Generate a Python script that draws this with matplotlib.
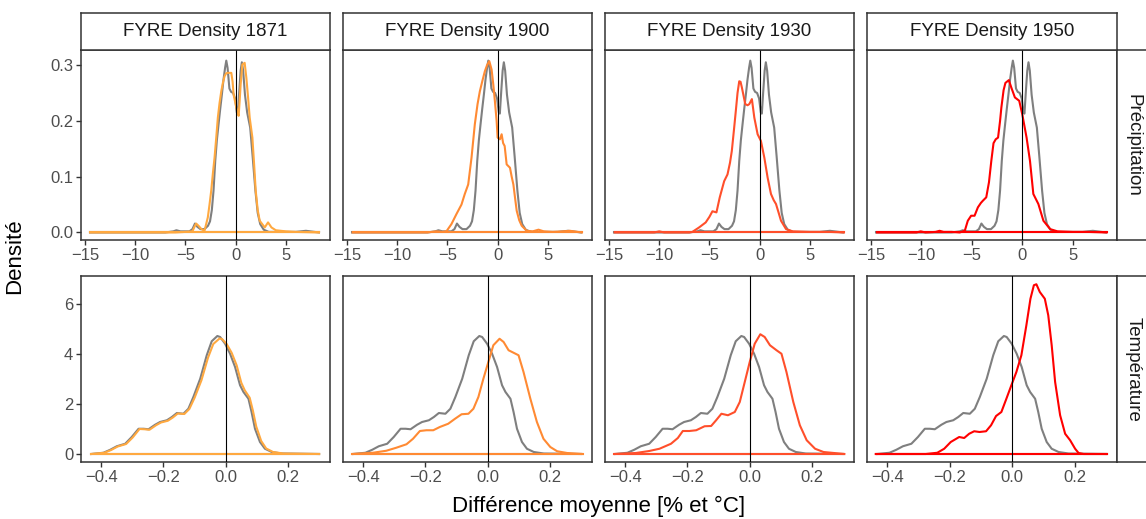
import matplotlib
matplotlib.use("Agg")
import matplotlib.pyplot as plt

plt.rcParams['font.family'] = ['Liberation Sans', 'DejaVu Sans']

# ---------------- data ----------------
column_titles = ["FYRE Density 1871", "FYRE Density 1900", "FYRE Density 1930", "FYRE Density 1950"]
row_titles = ["Précipitation", "Température"]
series_colors = ["#FFA940", "#FF8A33", "#FF4F2B", "#FF0000"]
ref_color = "#7F7F7F"

precip_ticks = [-15, -10, -5, 0, 5]
temp_ticks = [-0.4, -0.2, 0.0, 0.2]
precip_yticks = [0.0, 0.1, 0.2, 0.3]
temp_yticks = [0, 2, 4, 6]

# reference (grey) precipitation density
precip_ref_x = [-14.5, -7.0, -6.2, -5.9, -5.5, -4.6, -4.3, -4.05, -3.8, -3.5, -3.1, -2.75, -2.55, -2.37, -2.2,
                -2.03, -1.87, -1.7, -1.53, -1.37, -1.2, -1.05, -0.93, -0.8, -0.62, -0.45, -0.25, -0.05, 0.12,
                0.22, 0.35, 0.5, 0.62, 0.75, 0.93, 1.15, 1.45, 1.7, 1.97, 2.2, 2.45, 2.8, 3.3, 4.5, 6.0, 7.0, 8.3]
precip_ref_y = [0, 0, 0.002, 0.004, 0.002, 0.002, 0.006, 0.016, 0.01, 0.006, 0.006, 0.012, 0.02, 0.04, 0.075,
                0.128, 0.165, 0.194, 0.222, 0.247, 0.275, 0.295, 0.308, 0.295, 0.258, 0.252, 0.25, 0.24, 0.215,
                0.213, 0.25, 0.29, 0.305, 0.29, 0.247, 0.215, 0.188, 0.135, 0.075, 0.035, 0.015, 0.005, 0.001,
                0.001, 0.001, 0.003, 0]

precip_1871_x = [-14.5, -6.0, -5.0, -4.3, -4.1, -3.93, -3.7, -3.4, -3.1, -2.77, -2.6, -2.43, -2.27, -2.1, -1.93,
                 -1.77, -1.6, -1.43, -1.27, -1.1, -0.95, -0.83, -0.6, -0.43, -0.3, -0.2, 0.07, 0.2, 0.3, 0.4,
                 0.5, 0.67, 0.9, 1.07, 1.25, 1.4, 1.67, 1.85, 2.0, 2.2, 2.4, 2.9, 3.23, 3.57, 4.0, 5.0, 6.0, 8.3]
precip_1871_y = [0, 0, 0.001, 0.002, 0.01, 0.016, 0.012, 0.006, 0.003, 0.027, 0.05, 0.075, 0.105, 0.134, 0.17,
                 0.206, 0.232, 0.253, 0.268, 0.28, 0.285, 0.286, 0.286, 0.286, 0.27, 0.247, 0.224, 0.215, 0.209,
                 0.235, 0.265, 0.301, 0.304, 0.277, 0.24, 0.206, 0.17, 0.12, 0.075, 0.04, 0.021, 0.009, 0.018,
                 0.009, 0.004, 0.002, 0.001, 0]

precip_1900_x = [-14.43, -7.0, -6.1, -5.5, -5.1, -4.6, -4.1, -3.6, -3.27, -2.93, -2.6, -2.27, -2.0, -1.77, -1.5,
                 -1.27, -1.05, -0.83, -0.6, -0.43, -0.27, -0.1, 0.0, 0.23, 0.4, 0.55, 0.7, 0.9, 1.23, 1.4, 1.57,
                 1.75, 1.9, 2.15, 2.4, 2.9, 3.5, 4.07, 4.6, 5.5, 6.5, 7.2, 8.4]
precip_1900_y = [0, 0, 0.002, 0.001, 0.002, 0.015, 0.033, 0.05, 0.069, 0.086, 0.134, 0.194, 0.23, 0.253, 0.273,
                 0.289, 0.3, 0.307, 0.292, 0.265, 0.235, 0.2, 0.17, 0.167, 0.176, 0.16, 0.155, 0.122, 0.116, 0.1,
                 0.086, 0.06, 0.039, 0.022, 0.012, 0.003, 0.002, 0.005, 0.002, 0.001, 0.002, 0.003, 0]

precip_1930_x = [-14.43, -10.5, -10.0, -9.5, -7.0, -6.7, -6.03, -5.37, -5.0, -4.7, -4.3, -3.97, -3.53, -3.2,
                 -2.95, -2.77, -2.55, -2.37, -2.2, -2.03, -1.9, -1.77, -1.6, -1.43, -1.2, -1.03, -0.77, -0.53,
                 -0.2, 0.13, 0.47, 0.8, 1.13, 1.4, 1.63, 1.9, 2.13, 2.63, 3.3, 5.0, 7.0, 8.4]
precip_1930_y = [0, 0, 0.002, 0, 0, 0.001, 0.009, 0.018, 0.028, 0.038, 0.036, 0.063, 0.092, 0.104, 0.125, 0.146,
                 0.185, 0.218, 0.25, 0.271, 0.27, 0.26, 0.245, 0.23, 0.228, 0.23, 0.239, 0.206, 0.176, 0.164,
                 0.134, 0.098, 0.069, 0.058, 0.051, 0.035, 0.021, 0.006, 0.002, 0.001, 0.001, 0]

precip_1950_x = [-14.4, -10.5, -10.07, -9.6, -8.6, -8.2, -7.8, -7.0, -6.2, -5.7, -5.4, -5.07, -4.73, -4.4, -4.1,
                 -3.9, -3.57, -3.3, -3.07, -2.85, -2.63, -2.4, -2.2, -2.07, -1.85, -1.67, -1.33, -1.07, -0.73,
                 -0.3, 0.0, 0.43, 0.77, 1.1, 1.35, 1.6, 2.1, 2.77, 3.5, 5.0, 6.5, 8.37]
precip_1950_y = [0, 0, 0.002, 0, 0.001, 0.003, 0.001, 0.001, 0.0, 0.003, 0.021, 0.03, 0.03, 0.045, 0.053, 0.057,
                 0.063, 0.09, 0.128, 0.16, 0.167, 0.17, 0.2, 0.224, 0.255, 0.268, 0.273, 0.259, 0.242, 0.236,
                 0.212, 0.17, 0.128, 0.069, 0.06, 0.051, 0.021, 0.006, 0.002, 0.001, 0.001, 0]

# reference (grey) temperature density
temp_ref_x = [-0.432, -0.393, -0.371, -0.35, -0.323, -0.302, -0.28, -0.264, -0.248, -0.227, -0.211, -0.189,
              -0.173, -0.157, -0.136, -0.12, -0.104, -0.082, -0.061, -0.045, -0.027, -0.018, -0.002, 0.014,
              0.03, 0.046, 0.057, 0.073, 0.083, 0.094, 0.11, 0.126, 0.148, 0.18, 0.30]
temp_ref_y = [0, 0.05, 0.17, 0.31, 0.41, 0.68, 1.01, 1.01, 0.99, 1.17, 1.28, 1.35, 1.48, 1.64, 1.61, 1.81,
              2.28, 3.01, 3.95, 4.51, 4.72, 4.68, 4.41, 4.01, 3.48, 2.75, 2.48, 2.21, 1.68, 1.01, 0.48, 0.21,
              0.08, 0.02, 0]

temp_1871_x = [-0.432, -0.39, -0.368, -0.347, -0.32, -0.299, -0.277, -0.261, -0.245, -0.224, -0.208, -0.186,
               -0.17, -0.154, -0.133, -0.117, -0.1, -0.078, -0.057, -0.04, -0.02, -0.012, 0.003, 0.019, 0.035,
               0.05, 0.061, 0.077, 0.087, 0.098, 0.114, 0.13, 0.152, 0.185, 0.30]
temp_1871_y = [0, 0.05, 0.16, 0.3, 0.4, 0.66, 1.0, 0.99, 0.97, 1.15, 1.26, 1.33, 1.46, 1.62, 1.6, 1.8, 2.25,
               2.95, 3.85, 4.4, 4.62, 4.6, 4.4, 4.05, 3.55, 2.85, 2.55, 2.25, 1.75, 1.1, 0.52, 0.22, 0.08, 0.02, 0]

temp_1900_x = [-0.435, -0.369, -0.326, -0.294, -0.261, -0.24, -0.218, -0.197, -0.175, -0.154, -0.127, -0.105,
               -0.084, -0.062, -0.046, -0.03, -0.014, 0.002, 0.018, 0.038, 0.051, 0.067, 0.083, 0.099, 0.115,
               0.137, 0.158, 0.179, 0.201, 0.223, 0.255, 0.305]
temp_1900_y = [0, 0.05, 0.13, 0.25, 0.39, 0.61, 0.92, 0.95, 0.95, 1.08, 1.21, 1.41, 1.59, 1.61, 1.81, 2.28,
               3.01, 3.68, 4.35, 4.61, 4.48, 4.15, 4.05, 3.95, 3.28, 2.21, 1.28, 0.61, 0.28, 0.11, 0.04, 0]

temp_1930_x = [-0.435, -0.366, -0.323, -0.29, -0.253, -0.231, -0.215, -0.194, -0.172, -0.145, -0.124, -0.108,
               -0.091, -0.07, -0.048, -0.032, -0.016, 0.0, 0.016, 0.034, 0.048, 0.065, 0.086, 0.102, 0.118, 0.14,
               0.161, 0.183, 0.21, 0.237, 0.304]
temp_1930_y = [0, 0.04, 0.12, 0.21, 0.41, 0.64, 0.92, 0.92, 0.95, 1.11, 1.12, 1.35, 1.61, 1.55, 1.68, 2.08,
               2.88, 3.68, 4.41, 4.79, 4.68, 4.35, 4.15, 4.01, 3.28, 2.08, 1.15, 0.55, 0.21, 0.08, 0]

temp_1950_x = [-0.437, -0.277, -0.24, -0.218, -0.197, -0.17, -0.154, -0.138, -0.122, -0.105, -0.084, -0.068,
               -0.052, -0.035, -0.019, -0.003, 0.013, 0.029, 0.045, 0.058, 0.069, 0.077, 0.088, 0.104, 0.115,
               0.126, 0.137, 0.153, 0.169, 0.185, 0.201, 0.212, 0.228, 0.303]
temp_1950_y = [0, 0, 0.05, 0.21, 0.48, 0.68, 0.64, 0.81, 0.91, 0.88, 0.91, 1.15, 1.52, 1.68, 2.21, 2.75, 3.28,
               3.95, 5.15, 6.21, 6.75, 6.79, 6.48, 6.21, 5.55, 4.35, 2.88, 1.55, 0.81, 0.55, 0.21, 0.04, 0, 0]

precip_series = [(precip_1871_x, precip_1871_y), (precip_1900_x, precip_1900_y),
                 (precip_1930_x, precip_1930_y), (precip_1950_x, precip_1950_y)]
temp_series = [(temp_1871_x, temp_1871_y), (temp_1900_x, temp_1900_y),
               (temp_1930_x, temp_1930_y), (temp_1950_x, temp_1950_y)]

# ---------------- layout ----------------
W, H = 1146, 519
fig = plt.figure(figsize=(W / 100, H / 100), dpi=100)

def rect(x0, y0, x1, y1):
    return [x0 / W, 1 - y1 / H, (x1 - x0) / W, (y1 - y0) / H]

col_x = [(81, 330), (343, 592), (605, 854), (867, 1117)]
row_y = [(50, 240), (276, 462)]
strip_top = 13
strip_right = 1155

border_col = "#333333"
tick_col = "#4D4D4D"

row_cfg = [
    dict(ref=(precip_ref_x, precip_ref_y), series=precip_series, xlim=(-15.4, 9.4),
         ylim=(-0.0135, 0.327), xticks=precip_ticks, yticks=precip_yticks,
         xfmt=lambda v: f"{v:g}".replace("-", "\u2212"), yfmt=lambda v: f"{v:.1f}"),
    dict(ref=(temp_ref_x, temp_ref_y), series=temp_series, xlim=(-0.465, 0.335),
         ylim=(-0.32, 7.12), xticks=temp_ticks, yticks=temp_yticks,
         xfmt=lambda v: f"{v:.1f}".replace("-", "\u2212"), yfmt=lambda v: f"{v:g}"),
]

def style_box(ax):
    for s in ax.spines.values():
        s.set_color(border_col)
        s.set_linewidth(1.1)

for r, cfg in enumerate(row_cfg):
    y0, y1 = row_y[r]
    for c in range(4):
        x0, x1 = col_x[c]
        ax = fig.add_axes(rect(x0, y0, x1, y1))
        style_box(ax)
        rx, ry = cfg["ref"]
        ax.plot(rx, ry, color=ref_color, lw=1.5, solid_joinstyle="round", zorder=2)
        ax.plot([rx[0], rx[-1]], [0, 0], color=ref_color, lw=1.5, zorder=2)
        sx, sy = cfg["series"][c]
        ax.plot(sx, sy, color=series_colors[c], lw=1.5, solid_joinstyle="round", zorder=3)
        ax.plot([sx[0], sx[-1]], [0, 0], color=series_colors[c], lw=1.5, zorder=3)
        ax.axvline(0, color="black", lw=0.8, zorder=4)
        ax.set_xlim(*cfg["xlim"])
        ax.set_ylim(*cfg["ylim"])
        ax.set_xticks(cfg["xticks"])
        ax.set_xticklabels([cfg["xfmt"](v) for v in cfg["xticks"]])
        ax.tick_params(axis="x", direction="out", length=3.5, width=1.0, color=border_col,
                       labelcolor=tick_col, labelsize=12, pad=2)
        if c == 0:
            ax.set_yticks(cfg["yticks"])
            ax.set_yticklabels([cfg["yfmt"](v) for v in cfg["yticks"]])
            ax.tick_params(axis="y", direction="out", length=3.5, width=1.0, color=border_col,
                           labelcolor=tick_col, labelsize=12, pad=2)
        else:
            ax.set_yticks([])

    # right strip
    sax = fig.add_axes(rect(col_x[3][1], y0, strip_right, y1))
    style_box(sax)
    sax.set_xticks([]); sax.set_yticks([])
    sax.text(0.42, 0.5, row_titles[r], rotation=-90, ha="center", va="center",
             fontsize=13.5, color="#1A1A1A", transform=sax.transAxes)

# top strips
for c in range(4):
    x0, x1 = col_x[c]
    sax = fig.add_axes(rect(x0, strip_top, x1, row_y[0][0]))
    style_box(sax)
    sax.set_xticks([]); sax.set_yticks([])
    sax.text(0.5, 0.5, column_titles[c], ha="center", va="center",
             fontsize=13.5, color="#1A1A1A", transform=sax.transAxes)

fig.text(15 / W, 1 - 256 / H, "Densité", rotation=90, ha="center", va="center", fontsize=16)
fig.text(599 / W, 1 - 506 / H, "Différence moyenne [% et °C]", ha="center", va="center", fontsize=16)

fig.savefig("out.png", dpi=100)
